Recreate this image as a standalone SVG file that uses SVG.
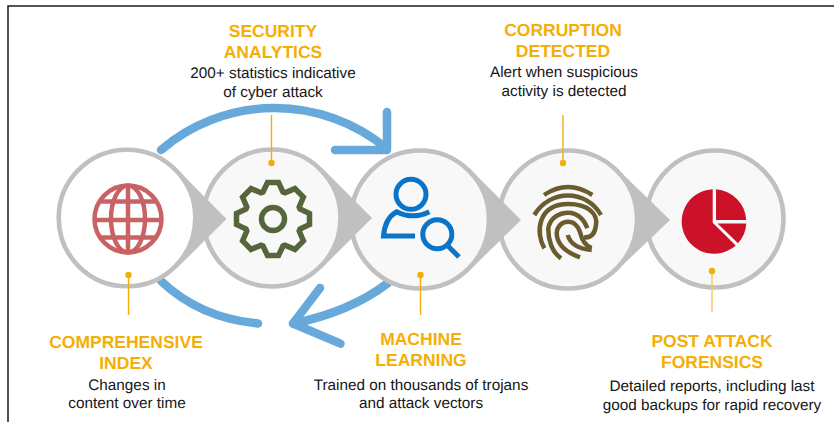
<svg xmlns="http://www.w3.org/2000/svg" width="834" height="422" viewBox="0 0 834 422">
<style>
text{font-family:"Liberation Sans",Arial,sans-serif;text-anchor:middle;text-rendering:geometricPrecision}
.t{font-size:17.5px;font-weight:700;fill:#f5ae05}
.b{font-size:15.3px;fill:#161616}
.ring{stroke:#bfc0bf;stroke-width:4.6;fill:#f8f8f8}
.wedge{fill:#bfc0bf}
.lead{stroke:#f4ae0c;stroke-width:1.4;fill:none}
.dot{fill:#f4ae0c}
.arc{fill:none;stroke:#67a9da;stroke-width:8.5;stroke-linecap:round;stroke-linejoin:round}
.i{fill:none}
</style>
<rect width="834" height="422" fill="#fff"/>
<path d="M8 422V6H834" fill="none" stroke="#1c1c1c" stroke-width="1.5"/>
<g id="connectors">
<path class="arc" d="M161 150A175 175 0 0 1 386 148"/>
<path class="arc" d="M387 112V150H335"/>
<path class="arc" d="M161 281Q200 318 258 323.5"/>
<path class="arc" d="M388 283Q350 312 293 323.5"/>
<path class="arc" d="M320 288L293 323.5L340.500 343.700"/>
</g>
<g id="post-attack-forensics">
<circle class="ring" cx="715" cy="219" r="68.500"/>
<g fill="#cc1228">
<path d="M712.700 189.200A32.300 32.300 0 1 0 735.700 245.400L712.700 222.700Z"/>
<path d="M716 189.300A32.300 32.300 0 0 1 746.200 220H716Z"/>
<path d="M717.500 223.500H746.300A32.300 32.300 0 0 1 738 243.300Z"/>
</g>
<path class="lead" style="stroke:#f6c65f" d="M712 271V312"/>
<circle class="dot" cx="712" cy="271" r="3.200"/>
<text class="t" x="712" y="346.500">POST ATTACK</text>
<text class="t" x="712" y="368">FORENSICS</text>
<text class="b" x="712" y="391">Detailed reports, including last</text>
<text class="b" x="712" y="409.500">good backups for rapid recovery</text>
</g>
<g id="corruption-detected">
<path class="wedge" d="M670 220L617.500 169V270Z"/>
<circle class="ring" cx="568" cy="219.500" r="69"/>
<g class="i" stroke="#6b5c2f" stroke-width="4.500">
<path d="M544 195Q568 179 592.300 195"/>
<path d="M534.300 215C550 189 586 189 601 215"/>
<path d="M544.300 248.300C535 232 538 204 568.300 204C588 204 598 214 596 225C595 234 591 238 584 237.300"/>
<path d="M561 258.300C552 252 548 240 548.300 228.300C550 218 559 212.700 568.300 212.700C577 212.700 584 219 587.300 228.300"/>
<path d="M580 257.300C565 252 557 244 556.700 233.300C557 226 562 221.700 568.300 221.700C574 221.700 578 226 580 232C582 241 586 246 591.700 248"/>
<path d="M567.700 235C570 243 578 249 591.700 250"/>
</g>
<path class="lead" d="M563 115V163"/>
<circle class="dot" cx="563" cy="163" r="3.200"/>
<text class="t" x="563" y="36">CORRUPTION</text>
<text class="t" x="563" y="57">DETECTED</text>
<text class="b" x="564" y="77">Alert when suspicious</text>
<text class="b" x="564" y="95.500">activity is detected</text>
</g>
<g id="machine-learning">
<path class="wedge" d="M521 220L470 169V270Z"/>
<circle class="ring" cx="420" cy="219.500" r="69"/>
<g class="i" stroke="#0a74c9" stroke-width="5">
<circle cx="411" cy="194.300" r="15"/>
<path d="M429.300 211.700Q413 220 396.700 211.700Q385 218 383.500 236H415"/>
<circle cx="437.300" cy="234.300" r="14.500"/>
<path d="M447 245L459 257"/>
</g>
<path class="lead" d="M420.500 275V315"/>
<circle class="dot" cx="420.500" cy="275" r="3.200"/>
<text class="t" x="421" y="345">MACHINE</text>
<text class="t" x="421" y="366">LEARNING</text>
<text class="b" x="421" y="390">Trained on thousands of trojans</text>
<text class="b" x="421" y="408">and attack vectors</text>
</g>
<g id="security-analytics">
<path class="wedge" d="M372 218L322 168V268Z"/>
<circle class="ring" cx="272" cy="218" r="68.500"/>
<g class="i" stroke="#56663c" stroke-width="5.500">
<circle cx="273" cy="219" r="11.500"/>
<path transform="translate(273 219)" d="M-10-27L-5.500-36.500H5.500L10-27L12-26.200L21.900-30.400L30.400-21.900L26.200-12L27-10L36.500-5.500V5.500L27 10L26.200 12L30.400 21.900L21.900 30.400L12 26.200L10 27L5.500 36.500H-5.500L-10 27L-12 26.200L-21.900 30.400L-30.400 21.900L-26.200 12L-27 10L-36.500 5.500V-5.500L-27-10L-26.200-12L-30.400-21.900L-21.900-30.400L-12-26.200Z"/>
</g>
<path class="lead" d="M271.500 115V163"/>
<circle class="dot" cx="271.500" cy="163" r="3.200"/>
<text class="t" x="273" y="37">SECURITY</text>
<text class="t" x="273" y="58">ANALYTICS</text>
<text class="b" x="273" y="78">200+ statistics indicative</text>
<text class="b" x="273" y="96.500">of cyber attack</text>
</g>
<g id="comprehensive-index">
<path class="wedge" d="M226.500 219L176.500 168.500V268.500Z"/>
<circle class="ring" cx="127" cy="218" r="68.300" style="fill:#fff"/>
<g class="i" stroke="#c96264" stroke-width="4.500">
<circle cx="128" cy="219" r="33.500"/>
<ellipse cx="128" cy="219" rx="17" ry="33.500"/>
<path d="M128 185.500V252.500M101 201.500H155M94.500 220H161.500M101 237.500H155"/>
</g>
<path class="lead" d="M128.500 275V315"/>
<circle class="dot" cx="128.500" cy="275" r="3.200"/>
<text class="t" x="126" y="347.500">COMPREHENSIVE</text>
<text class="t" x="126" y="369">INDEX</text>
<text class="b" x="127" y="390">Changes in</text>
<text class="b" x="127" y="408">content over time</text>
</g>
</svg>
